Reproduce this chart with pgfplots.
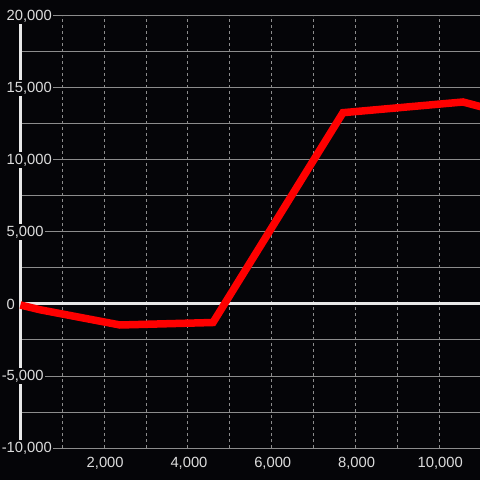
\documentclass[border=0pt]{standalone}
\usepackage{fontspec}
\setmainfont{Liberation Sans}
\usepackage{pgfplots}
\pgfplotsset{compat=1.18}
\definecolor{bg}{RGB}{5,5,8}
\definecolor{txt}{RGB}{220,220,220}
\definecolor{gridc}{RGB}{140,140,140}
\definecolor{axc}{RGB}{232,232,232}
\begin{document}
\begin{tikzpicture}
\begin{axis}[
  set layers=standard,
  scale only axis, width=480bp, height=480bp,
  xmin=-487, xmax=10972, ymin=-12222, ymax=21111,
  scaled ticks=false,
  axis line style={draw=none},
  axis background/.style={fill=bg},
  major tick length=0pt,
  tick style={draw=none},
  xtick={2000,4000,6000,8000,10000},
  xticklabels={{2,000},{4,000},{6,000},{8,000},{10,000}},
  ytick={-10000,-5000,0,5000,10000,15000,20000},
  yticklabels={{\llap{-}10,000},{\llap{-}5,000},{0},{5,000},{10,000},{15,000},{20,000}},
  ticklabel style={font=\fontsize{14.8}{16}\selectfont, text=txt},
  yticklabel style={anchor=west, xshift=5bp, fill=bg, inner sep=1.5bp},
  xticklabel style={anchor=center, yshift=17bp, xshift=1bp},
  clip=true,
]
\begin{pgfonlayer}{axis grid}
\pgfplotsinvokeforeach{-10000,-7500,-5000,-2500,2500,5000,7500,10000,12500,15000,17500,20000}{
  \draw[gridc, line width=1bp] (axis cs:0,#1) -- (axis cs:11000,#1);
}
\pgfplotsinvokeforeach{1000,2000,3000,4000,5000,6000,7000,8000,9000,10000}{
  \draw[gridc, line width=1bp, dash pattern=on 3bp off 3bp] (axis cs:#1,-10000) -- (axis cs:#1,20000);
}
\draw[axc, line width=3bp] (axis cs:0,-10000) -- (axis cs:0,20000);
\draw[axc, line width=3bp] (axis cs:0,0) -- (axis cs:11000,0);
\end{pgfonlayer}
\addplot[color={rgb,255:red,255;green,0;blue,0}, line width=7.5bp, line join=miter] coordinates {
  (0,-70) (470,-400) (2378,-1458) (4598,-1285) (7701,13285) (10566,14028) (11000,13693)
};
\end{axis}
\end{tikzpicture}
\end{document}
